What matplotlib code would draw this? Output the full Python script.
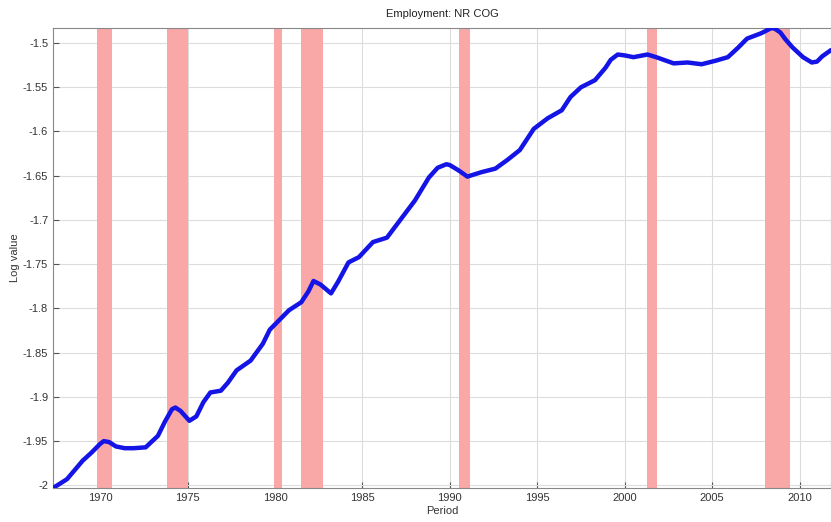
import matplotlib
matplotlib.use("Agg")
import matplotlib.pyplot as plt
from matplotlib.ticker import FuncFormatter

plt.rcParams['font.family'] = ['Liberation Sans', 'DejaVu Sans']

title = "Employment: NR COG"
xlabel = "Period"
ylabel = "Log value"

years = [1967.3, 1968.1, 1969.0, 1969.5, 1970.0, 1970.2, 1970.5, 1970.9, 1971.4,
         1971.9, 1972.6, 1973.3, 1973.7, 1974.1, 1974.3, 1974.6, 1975.1, 1975.5,
         1975.9, 1976.3, 1976.9, 1977.3, 1977.8, 1978.6, 1979.3, 1979.7,
         1980.1, 1980.8, 1981.5, 1981.9, 1982.2, 1982.6, 1983.2, 1983.6, 1984.2,
         1984.8, 1985.6, 1986.4, 1987.2, 1988.0, 1988.8, 1989.3, 1989.8, 1990.0,
         1990.5, 1991.0, 1991.8, 1992.6, 1993.3, 1994.0, 1994.8, 1995.6, 1996.4,
         1996.9, 1997.5, 1998.3, 1998.9, 1999.2, 1999.6, 2000.0, 2000.5, 2001.3,
         2001.8, 2002.8, 2003.6, 2004.4, 2005.2, 2005.9, 2006.5, 2007.0, 2007.8,
         2008.1, 2008.4, 2008.6, 2008.9, 2009.2, 2009.6, 2010.2, 2010.7, 2011.0,
         2011.3, 2011.8]
log_values = [-2.003, -1.993, -1.972, -1.963, -1.953, -1.950, -1.951, -1.956, -1.958,
              -1.958, -1.957, -1.944, -1.928, -1.914, -1.912, -1.916, -1.927, -1.922,
              -1.906, -1.895, -1.893, -1.884, -1.870, -1.859, -1.840, -1.824,
              -1.816, -1.802, -1.793, -1.781, -1.769, -1.773, -1.783, -1.770, -1.748,
              -1.742, -1.725, -1.720, -1.699, -1.678, -1.652, -1.641, -1.637, -1.638,
              -1.644, -1.651, -1.646, -1.642, -1.632, -1.621, -1.597, -1.585, -1.576,
              -1.561, -1.550, -1.542, -1.528, -1.519, -1.513, -1.514, -1.516, -1.513,
              -1.516, -1.523, -1.522, -1.524, -1.520, -1.516, -1.505, -1.495, -1.489,
              -1.486, -1.483, -1.484, -1.488, -1.496, -1.505, -1.516, -1.522, -1.521,
              -1.515, -1.508]

recession_start = [1969.83, 1973.8, 1979.94, 1981.5, 1990.51, 2001.26, 2008.0]
recession_end = [1970.69, 1975.0, 1980.4, 1982.74, 1991.14, 2001.83, 2009.43]

x_ticks = [1970, 1975, 1980, 1985, 1990, 1995, 2000, 2005, 2010]
y_ticks = [-2, -1.95, -1.9, -1.85, -1.8, -1.75, -1.7, -1.65, -1.6, -1.55, -1.5]

fig = plt.figure(figsize=(8.31, 5.22), dpi=100)
ax = fig.add_axes([0.0638, 0.0651, 0.9362, 0.8813])

for s, e in zip(recession_start, recession_end):
    ax.axvspan(s, e, color='#f9a7a7', lw=0, zorder=1)

ax.plot(years, log_values, color='#1414e6', lw=3.2, zorder=3,
        solid_capstyle='round', solid_joinstyle='round')

ax.set_xlim(1967.3, 2011.8)
ax.set_ylim(-2.003, -1.483)
ax.set_xticks(x_ticks)
ax.set_yticks(y_ticks)
ax.yaxis.set_major_formatter(FuncFormatter(lambda v, p: f"{v:g}"))
ax.grid(True, color='#dcdcdc', lw=0.8, zorder=0)
ax.set_axisbelow(True)
ax.tick_params(direction='in', length=4, labelsize=8, colors='#555555', labelcolor='#333333')
for sp in ax.spines.values():
    sp.set_color('#888888')
    sp.set_linewidth(0.8)

ax.set_title(title, fontsize=8, color='#222222', pad=8)
ax.set_xlabel(xlabel, fontsize=8, color='#333333', labelpad=2)
ax.set_ylabel(ylabel, fontsize=8, color='#333333', labelpad=2)

fig.savefig("out.png", dpi=100)
